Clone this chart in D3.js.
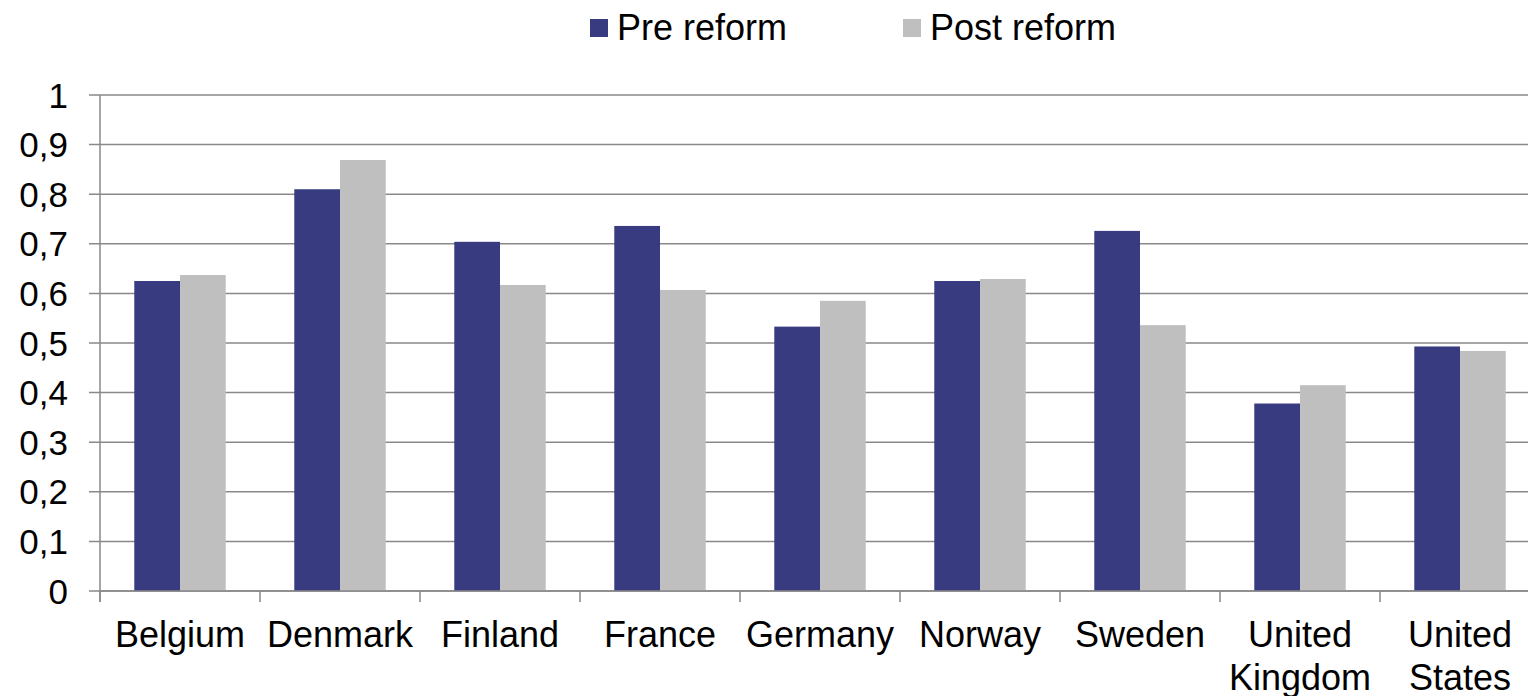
<!DOCTYPE html>
<html>
<head>
<meta charset="utf-8">
<script src="https://cdn.jsdelivr.net/npm/d3@7"></script>
<style>
  html, body { margin: 0; padding: 0; background: #fff; }
  svg { display: block; font-family: "Liberation Sans", Arial, sans-serif; }
</style>
</head>
<body>
<svg id="chart" width="1528" height="696"></svg>
<script>
// données
const categories = ['Belgium', 'Denmark', 'Finland', 'France', 'Germany', 'Norway', 'Sweden', 'United Kingdom', 'United States'];
const seriesNames = ['Pre reform', 'Post reform'];
const preReform = [0.625, 0.810, 0.704, 0.736, 0.533, 0.625, 0.726, 0.378, 0.493];
const postReform = [0.637, 0.869, 0.617, 0.607, 0.585, 0.629, 0.536, 0.415, 0.484];
const yTicks = [0, 0.1, 0.2, 0.3, 0.4, 0.5, 0.6, 0.7, 0.8, 0.9, 1];
const yTickLabels = ['0', '0,1', '0,2', '0,3', '0,4', '0,5', '0,6', '0,7', '0,8', '0,9', '1'];
const colors = ['#383b7f', '#bfbfbf'];

const svg = d3.select('#chart');
const gridColor = '#898989';

const x0 = d3.scaleBand().domain(categories).range([100, 1540]).padding(0);
const x1 = d3.scaleBand().domain(seriesNames).range([0, x0.bandwidth()])
    .paddingInner(0).paddingOuter(0.75);
const y = d3.scaleLinear().domain([0, 1]).range([591, 95]);
const color = d3.scaleOrdinal().domain(seriesNames).range(colors);

// --- grille horizontale ---
svg.append('g')
    .selectAll('line')
    .data(yTicks)
    .join('line')
    .attr('x1', 89).attr('x2', 1540)
    .attr('y1', d => y(d)).attr('y2', d => y(d))
    .attr('stroke', gridColor)
    .attr('stroke-width', 1.5);

// --- barres ---
const rows = categories.map((c, i) => ({ cat: c, values: [preReform[i], postReform[i]] }));
const group = svg.append('g')
    .selectAll('g')
    .data(rows)
    .join('g')
    .attr('transform', d => `translate(${x0(d.cat)},0)`);

group.selectAll('rect')
    .data(d => d.values.map((v, j) => ({ key: seriesNames[j], value: v })))
    .join('rect')
    .attr('x', d => x1(d.key))
    .attr('width', x1.bandwidth())
    .attr('y', d => y(d.value))
    .attr('height', d => y(0) - y(d.value))
    .attr('fill', d => color(d.key));

// --- axe X (ligne + graduations) ---
svg.append('line')
    .attr('x1', 100).attr('x2', 1540)
    .attr('y1', y(0)).attr('y2', y(0))
    .attr('stroke', gridColor).attr('stroke-width', 1.5);

const xTickPos = categories.map(c => x0(c)).concat([x0.range()[1]]);
svg.append('g')
    .selectAll('line')
    .data(xTickPos)
    .join('line')
    .attr('x1', d => d).attr('x2', d => d)
    .attr('y1', y(0)).attr('y2', y(0) + 11)
    .attr('stroke', gridColor).attr('stroke-width', 1.5);

// --- axe Y ---
svg.append('line')
    .attr('x1', 100).attr('x2', 100)
    .attr('y1', y(1)).attr('y2', y(0) + 11)
    .attr('stroke', gridColor).attr('stroke-width', 1.5);

svg.append('g')
    .selectAll('text')
    .data(yTicks)
    .join('text')
    .attr('x', 68)
    .attr('y', d => y(d))
    .attr('dy', '0.36em')
    .attr('text-anchor', 'end')
    .attr('font-size', 35)
    .attr('fill', '#000')
    .text((d, i) => yTickLabels[i]);

// --- libellés des catégories (sur deux lignes si besoin) ---
const catLabels = svg.append('g')
    .selectAll('text')
    .data(categories)
    .join('text')
    .attr('x', d => x0(d) + x0.bandwidth() / 2)
    .attr('y', 647)
    .attr('text-anchor', 'middle')
    .attr('font-size', 36)
    .attr('fill', '#000');

catLabels.each(function(d) {
    const words = d.split(' ');
    const t = d3.select(this);
    words.forEach((w, k) => {
        t.append('tspan')
            .attr('x', x0(d) + x0.bandwidth() / 2)
            .attr('dy', k === 0 ? 0 : 43)
            .text(w);
    });
});

// --- légende ---
const legendPos = [590, 903];
const legend = svg.append('g')
    .selectAll('g')
    .data(seriesNames)
    .join('g')
    .attr('transform', (d, i) => `translate(${legendPos[i]},0)`);

legend.append('rect')
    .attr('x', 0).attr('y', 19)
    .attr('width', 18).attr('height', 18)
    .attr('fill', d => color(d));

legend.append('text')
    .attr('x', 27).attr('y', 40)
    .attr('font-size', 36)
    .attr('fill', '#000')
    .text(d => d);
</script>
</body>
</html>
